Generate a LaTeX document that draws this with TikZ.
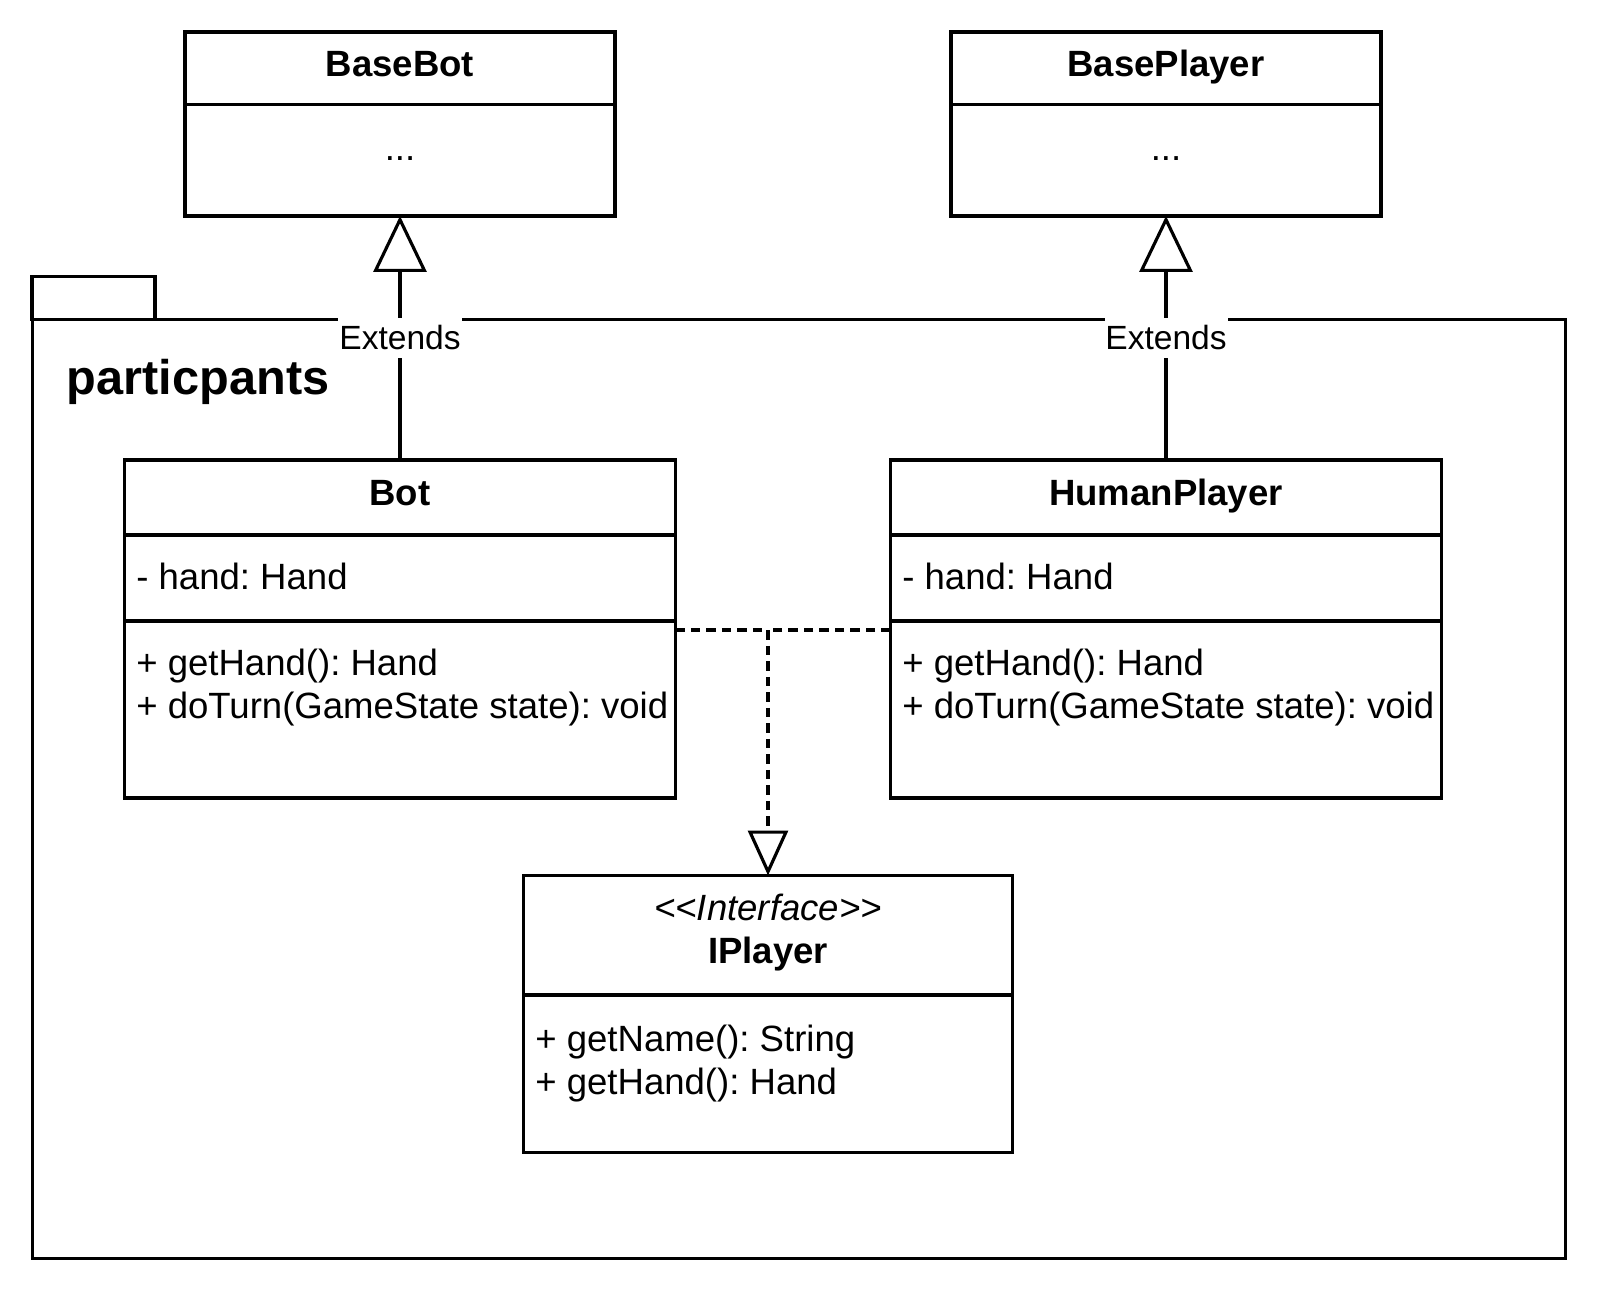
\documentclass[tikz,border=0pt]{standalone}
\usepackage{fontspec}
\setmainfont{Liberation Sans}
\usetikzlibrary{arrows.meta}
\frenchspacing

\begin{document}
\begin{tikzpicture}[x=0.02cm, y=-0.02cm,
box/.style={draw=black, line width=1.8pt, inner sep=0pt, outer sep=0pt},
divider/.style={line width=1.8pt},
title/.style={font=\fontsize{20.8pt}{25pt}\selectfont\bfseries, anchor=base, inner sep=0pt},
member/.style={font=\fontsize{20.8pt}{25pt}\selectfont, anchor=base west, inner sep=0pt},
tag/.style={font=\fontsize{19.1pt}{23pt}\selectfont, fill=white, inner xsep=0.5pt, inner ysep=4.5pt},
extends/.style={line width=1.8pt, -{Triangle[open, length=1.12cm, width=1.06cm]}},
realize/.style={line width=1.8pt, dash pattern=on 0.19cm off 0.12cm},
]
\useasboundingbox (0,0) rectangle (1600,1293);

% Package frame
\node[box, minimum width=30.68cm, minimum height=18.8cm] (pkg) at (799,789) {};
\node[box, minimum width=2.46cm, minimum height=0.86cm] (pkgtab) at (93.5,298) {};
\node[font=\fontsize{27.7pt}{33pt}\selectfont\bfseries, anchor=base west, inner sep=0pt] (pkgname) at (66.6,395) {particpants};

% Base classes
\node[box, minimum width=8.6cm, minimum height=3.68cm] (basebot) at (400,124) {};
\draw[divider] (basebot.west |- 0,104.5) -- (basebot.east |- 0,104.5);
\node[title] (basebot_t) at (400,77) {BaseBot};
\node[member, anchor=base] (basebot_m) at (400,161) {...};

\node[box, minimum width=8.6cm, minimum height=3.68cm] (baseplayer) at (1166,124) {};
\draw[divider] (baseplayer.west |- 0,104.5) -- (baseplayer.east |- 0,104.5);
\node[title] (baseplayer_t) at (1166,77) {BasePlayer};
\node[member, anchor=base] (baseplayer_m) at (1166,161) {...};

% Bot
\node[box, minimum width=11.02cm, minimum height=6.76cm] (bot) at (400,629) {};
\draw[divider] (bot.west |- 0,535) -- (bot.east |- 0,535);
\draw[divider] (bot.west |- 0,621) -- (bot.east |- 0,621);
\node[title] (bot_t) at (400,506) {Bot};
\node[member] (bot_a) at (136,590) {- hand: Hand};
\node[member] (bot_m1) at (136,676) {+ getHand(): Hand};
\node[member] (bot_m2) at (136,719) {+ doTurn(GameState state): void};

% HumanPlayer
\node[box, minimum width=11.02cm, minimum height=6.76cm] (human) at (1166,629) {};
\draw[divider] (human.west |- 0,535) -- (human.east |- 0,535);
\draw[divider] (human.west |- 0,621) -- (human.east |- 0,621);
\node[title] (human_t) at (1166,506) {HumanPlayer};
\node[member] (human_a) at (902,590) {- hand: Hand};
\node[member] (human_m1) at (902,676) {+ getHand(): Hand};
\node[member] (human_m2) at (902,719) {+ doTurn(GameState state): void};

% IPlayer interface
\node[box, minimum width=9.78cm, minimum height=5.54cm] (iplayer) at (768,1014) {};
\draw[divider] (iplayer.west |- 0,995) -- (iplayer.east |- 0,995);
\node[member, anchor=base, font=\fontsize{20.8pt}{25pt}\selectfont\itshape] (iplayer_s) at (768,921) {{<}{<}Interface{>}{>}};
\node[title] (iplayer_t) at (768,964) {IPlayer};
\node[member] (iplayer_m1) at (535,1051) {+ getName(): String};
\node[member] (iplayer_m2) at (535,1094) {+ getHand(): Hand};

% Extends arrows
\draw[extends] (bot.north) to node[tag] {Extends} (bot.north |- basebot.south);
\draw[extends] (human.north) to node[tag] {Extends} (human.north |- baseplayer.south);

% Realization arrows
\coordinate (join) at (iplayer.north |- 0,630);
\draw[realize, -{Triangle[open, length=0.9cm, width=0.8cm]}] (bot.east |- join) -- (join) -- (iplayer.north);
\draw[realize] (human.west |- join) -- (join);

\end{tikzpicture}
\end{document}
